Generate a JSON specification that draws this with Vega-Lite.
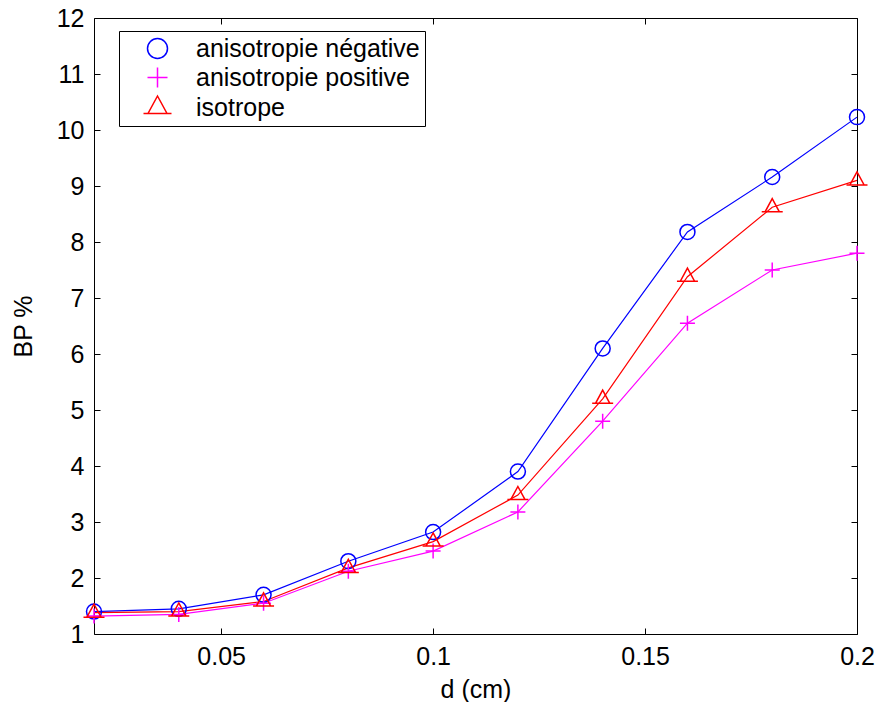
{
  "$schema": "https://vega.github.io/schema/vega-lite/v6.json",
  "width": 763,
  "height": 616,
  "autosize": "none",
  "padding": {"left": 94, "top": 18, "right": 18, "bottom": 68},
  "background": "white",
  "data": {
    "values": [
      {"series": "anisotropie négative", "d": 0.02, "bp": 1.4},
      {"series": "anisotropie négative", "d": 0.04, "bp": 1.45},
      {"series": "anisotropie négative", "d": 0.06, "bp": 1.7},
      {"series": "anisotropie négative", "d": 0.08, "bp": 2.3},
      {"series": "anisotropie négative", "d": 0.1, "bp": 2.82},
      {"series": "anisotropie négative", "d": 0.12, "bp": 3.9},
      {"series": "anisotropie négative", "d": 0.14, "bp": 6.1},
      {"series": "anisotropie négative", "d": 0.16, "bp": 8.18},
      {"series": "anisotropie négative", "d": 0.18, "bp": 9.16},
      {"series": "anisotropie négative", "d": 0.2, "bp": 10.23},
      {"series": "anisotropie positive", "d": 0.02, "bp": 1.32},
      {"series": "anisotropie positive", "d": 0.04, "bp": 1.35},
      {"series": "anisotropie positive", "d": 0.06, "bp": 1.55},
      {"series": "anisotropie positive", "d": 0.08, "bp": 2.12},
      {"series": "anisotropie positive", "d": 0.1, "bp": 2.48},
      {"series": "anisotropie positive", "d": 0.12, "bp": 3.18},
      {"series": "anisotropie positive", "d": 0.14, "bp": 4.8},
      {"series": "anisotropie positive", "d": 0.16, "bp": 6.55},
      {"series": "anisotropie positive", "d": 0.18, "bp": 7.5},
      {"series": "anisotropie positive", "d": 0.2, "bp": 7.8},
      {"series": "isotrope", "d": 0.02, "bp": 1.38},
      {"series": "isotrope", "d": 0.04, "bp": 1.4},
      {"series": "isotrope", "d": 0.06, "bp": 1.58},
      {"series": "isotrope", "d": 0.08, "bp": 2.18},
      {"series": "isotrope", "d": 0.1, "bp": 2.65},
      {"series": "isotrope", "d": 0.12, "bp": 3.48},
      {"series": "isotrope", "d": 0.14, "bp": 5.2},
      {"series": "isotrope", "d": 0.16, "bp": 7.38},
      {"series": "isotrope", "d": 0.18, "bp": 8.62},
      {"series": "isotrope", "d": 0.2, "bp": 9.1}
    ]
  },
  "layer": [
    {
      "mark": {"type": "line", "strokeWidth": 1.2},
      "encoding": {
        "x": {"field": "d", "type": "quantitative",
              "scale": {"domain": [0.02, 0.2], "nice": false, "zero": false},
              "axis": {"orient": "bottom", "values": [0.05, 0.1, 0.15, 0.2], "format": "~g", "title": "d (cm)", "titlePadding": 8}},
        "y": {"field": "bp", "type": "quantitative",
              "scale": {"domain": [1, 12], "nice": false, "zero": false},
              "axis": {"orient": "left", "values": [1,2,3,4,5,6,7,8,9,10,11,12], "title": "BP %", "titlePadding": 20}},
        "color": {"field": "series", "type": "nominal",
                  "scale": {"domain": ["anisotropie négative", "anisotropie positive", "isotrope"], "range": ["#0000ff", "#ff00ff", "#ff0000"]},
                  "legend": {
                    "encode": {"symbols": {"update": {"shape": {"value": {"expr": "datum.value === 'isotrope' ? 'M-2.35,0H2.35M0,-1L0.8,0.6H-0.8ZM-1.1,0.6H1.1' : datum.value === 'anisotropie positive' ? 'M-2.35,0H2.35M0,-0.95V0.95' : 'M-2.35,0H2.35M0.8,0A0.8,0.8,0,1,1,-0.8,0A0.8,0.8,0,1,1,0.8,0'"}}}}}
                  }},
        "order": {"field": "d"}
      }
    },
    {
      "mark": {"type": "point", "filled": false, "strokeWidth": 1.5, "size": 225, "opacity": 1},
      "encoding": {
        "x": {"field": "d", "type": "quantitative",
              "axis": {"orient": "top", "values": [0.05, 0.1, 0.15, 0.2], "labels": false, "title": null}},
        "y": {"field": "bp", "type": "quantitative",
              "axis": {"orient": "right", "values": [1,2,3,4,5,6,7,8,9,10,11,12], "labels": false, "title": null}},
        "color": {"field": "series", "type": "nominal",
                  "legend": {
                    "encode": {"symbols": {"update": {"shape": {"value": {"expr": "datum.value === 'isotrope' ? 'M-2.35,0H2.35M0,-1L0.8,0.6H-0.8ZM-1.1,0.6H1.1' : datum.value === 'anisotropie positive' ? 'M-2.35,0H2.35M0,-0.95V0.95' : 'M-2.35,0H2.35M0.8,0A0.8,0.8,0,1,1,-0.8,0A0.8,0.8,0,1,1,0.8,0'"}}}}}
                  }},
        "shape": {"field": "series", "type": "nominal",
                  "scale": {"domain": ["anisotropie négative", "anisotropie positive", "isotrope"],
                            "range": ["circle", "M-1,0H1M0,-1V1", "M0,-1.15L0.95,0.6L-0.95,0.6ZM-1.4,0.6H1.4"]},
                  "legend": {
                    "encode": {"symbols": {"update": {"shape": {"value": {"expr": "datum.value === 'isotrope' ? 'M-2.35,0H2.35M0,-1L0.8,0.6H-0.8ZM-1.1,0.6H1.1' : datum.value === 'anisotropie positive' ? 'M-2.35,0H2.35M0,-0.95V0.95' : 'M-2.35,0H2.35M0.8,0A0.8,0.8,0,1,1,-0.8,0A0.8,0.8,0,1,1,0.8,0'"}}}}}
                  }}
      }
    }
  ],
  "resolve": {"axis": {"x": "independent", "y": "independent"}},
  "config": {
    "view": {"stroke": null},
    "legend": {
      "orient": "none", "legendX": 25, "legendY": 13, "title": null,
      "padding": 5, "rowPadding": 2, "strokeColor": "black", "fillColor": "white",
      "symbolSize": 400, "symbolStrokeWidth": 1.5, "symbolOffset": 21, "labelOffset": 26,
      "labelFont": "Liberation Sans", "labelFontSize": 25, "labelColor": "black", "labelLimit": 400
    },
    "axis": {
      "domainColor": "black", "domainWidth": 1, "tickColor": "black", "tickWidth": 1,
      "labelColor": "black", "titleColor": "black", "grid": false,
      "labelFont": "Liberation Sans", "titleFont": "Liberation Sans",
      "labelFontSize": 25, "titleFontSize": 25, "titleFontWeight": "normal",
      "tickSize": -6, "labelPadding": 16, "labelFlush": false, "labelOverlap": false
    }
  }
}
